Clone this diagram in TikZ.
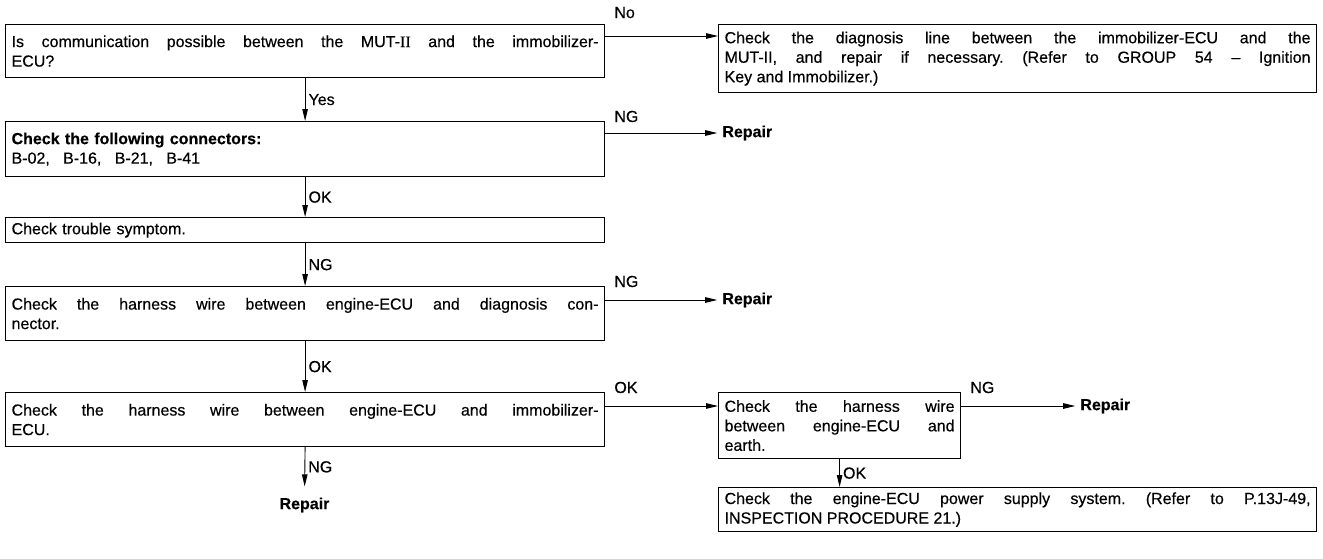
\documentclass[tikz,border=0pt]{standalone}
\usepackage{fontspec}
\setmainfont{Liberation Sans}[FakeBold=0.4]
\newfontfamily\numfont{Liberation Serif}[FakeBold=0.4]
\usetikzlibrary{arrows.meta}
\frenchspacing

\begin{document}
\begin{tikzpicture}[x=1pt,y=-1pt,
  box/.style={draw, line width=1.2pt, rectangle, anchor=north west,
    inner xsep=6pt, inner ysep=2pt, align=justify,
    execute at begin node={\tolerance=10000\hbadness=10000\emergencystretch=0pt},
    font=\fontsize{16}{19.5}\selectfont},
  arr/.style={line width=0.9pt, -{Triangle[length=12pt,width=5.5pt]}},
  lbl/.style={font=\fontsize{16}{18}\selectfont, inner sep=1pt},
  rep/.style={font=\bfseries\fontsize{16}{18}\selectfont, inner sep=1pt}]
\useasboundingbox (0,0) rectangle (1323,558);

% left column of checks
\node[box, text width=587pt, minimum height=53pt] (q1) at (5,24)
  {Is communication possible between the MUT-{\numfont II} and the immobilizer-\linebreak ECU?};
\node[box, text width=587pt, minimum height=55pt, align=left] (conn) at (5,121)
  {\textbf{Check the following connectors:}\\B-02,\hspace{8pt} B-16,\hspace{8pt} B-21,\hspace{8pt} B-41};
\node[box, text width=587pt, minimum height=25pt, align=left] (symp) at (5,217)
  {Check trouble symptom.};
\node[box, text width=587pt, minimum height=54pt] (harn1) at (5,286)
  {Check the harness wire between engine-ECU and diagnosis con-\linebreak nector.};
\node[box, text width=587pt, minimum height=54pt] (harn2) at (5,392)
  {Check the harness wire between engine-ECU and immobilizer-\linebreak ECU.};

% right column
\node[box, text width=586pt, minimum height=68pt] (diag) at (718,24)
  {Check the diagnosis line between the immobilizer-ECU and the\linebreak
   MUT-II, and repair if necessary. (Refer to GROUP 54 -- Ignition\linebreak
   Key and Immobilizer.)};
\node[box, text width=230pt, minimum height=66pt] (earth) at (718,392)
  {Check the harness wire\linebreak between engine-ECU and\linebreak earth.};
\node[box, text width=586pt, minimum height=44pt] (power) at (718,487)
  {Check the engine-ECU power supply system. (Refer to P.13J-49,\linebreak
   INSPECTION PROCEDURE 21.)};

% repair ends
\node[rep, anchor=west] (rep1) at ([shift={(116,12)}]conn.north east) {Repair};
\node[rep, anchor=west] (rep2) at ([shift={(116,14)}]harn1.north east) {Repair};
\node[rep, anchor=west] (rep3) at ([shift={(118,14)}]earth.north east) {Repair};
\node[rep] (rep4) at (304.5,505) {Repair};

% vertical flow
\draw[arr] (q1.south) -- node[lbl, right, xshift=2pt] {Yes} (conn.north);
\draw[arr] (conn.south) -- node[lbl, right, xshift=2pt] {OK} (symp.north);
\draw[arr] (symp.south) -- node[lbl, right, xshift=2pt] {NG} (harn1.north);
\draw[arr] (harn1.south) -- node[lbl, right, xshift=2pt] {OK} (harn2.north);
\draw[arr, shorten >=10pt] (harn2.south) -- node[lbl, right, xshift=2pt, pos=0.4] {NG} (rep4.north);
\draw[arr] (earth.south) -- node[lbl, right, xshift=2pt] {OK} (earth.south |- power.north);

% horizontal flow
\coordinate (a1) at ([shift={(0,12)}]q1.north east);
\draw[arr] (a1) -- (a1 -| diag.west);
\node[lbl, anchor=base west] at ([shift={(8,-6)}]q1.north east) {No};

\draw[arr, shorten >=4pt] (rep1.west -| conn.east) -- (rep1.west);
\node[lbl, anchor=base west] at ([shift={(8,1)}]conn.north east) {NG};

\draw[arr, shorten >=4pt] (rep2.west -| harn1.east) -- (rep2.west);
\node[lbl, anchor=base west] at ([shift={(8,1)}]harn1.north east) {NG};

\coordinate (a5) at ([shift={(0,14)}]harn2.north east);
\draw[arr] (a5) -- (a5 -| earth.west);
\node[lbl, anchor=base west] at ([shift={(8,1)}]harn2.north east) {OK};

\draw[arr, shorten >=4pt] (rep3.west -| earth.east) -- (rep3.west);
\node[lbl, anchor=base west] at ([shift={(8,1)}]earth.north east) {NG};
\end{tikzpicture}
\end{document}
